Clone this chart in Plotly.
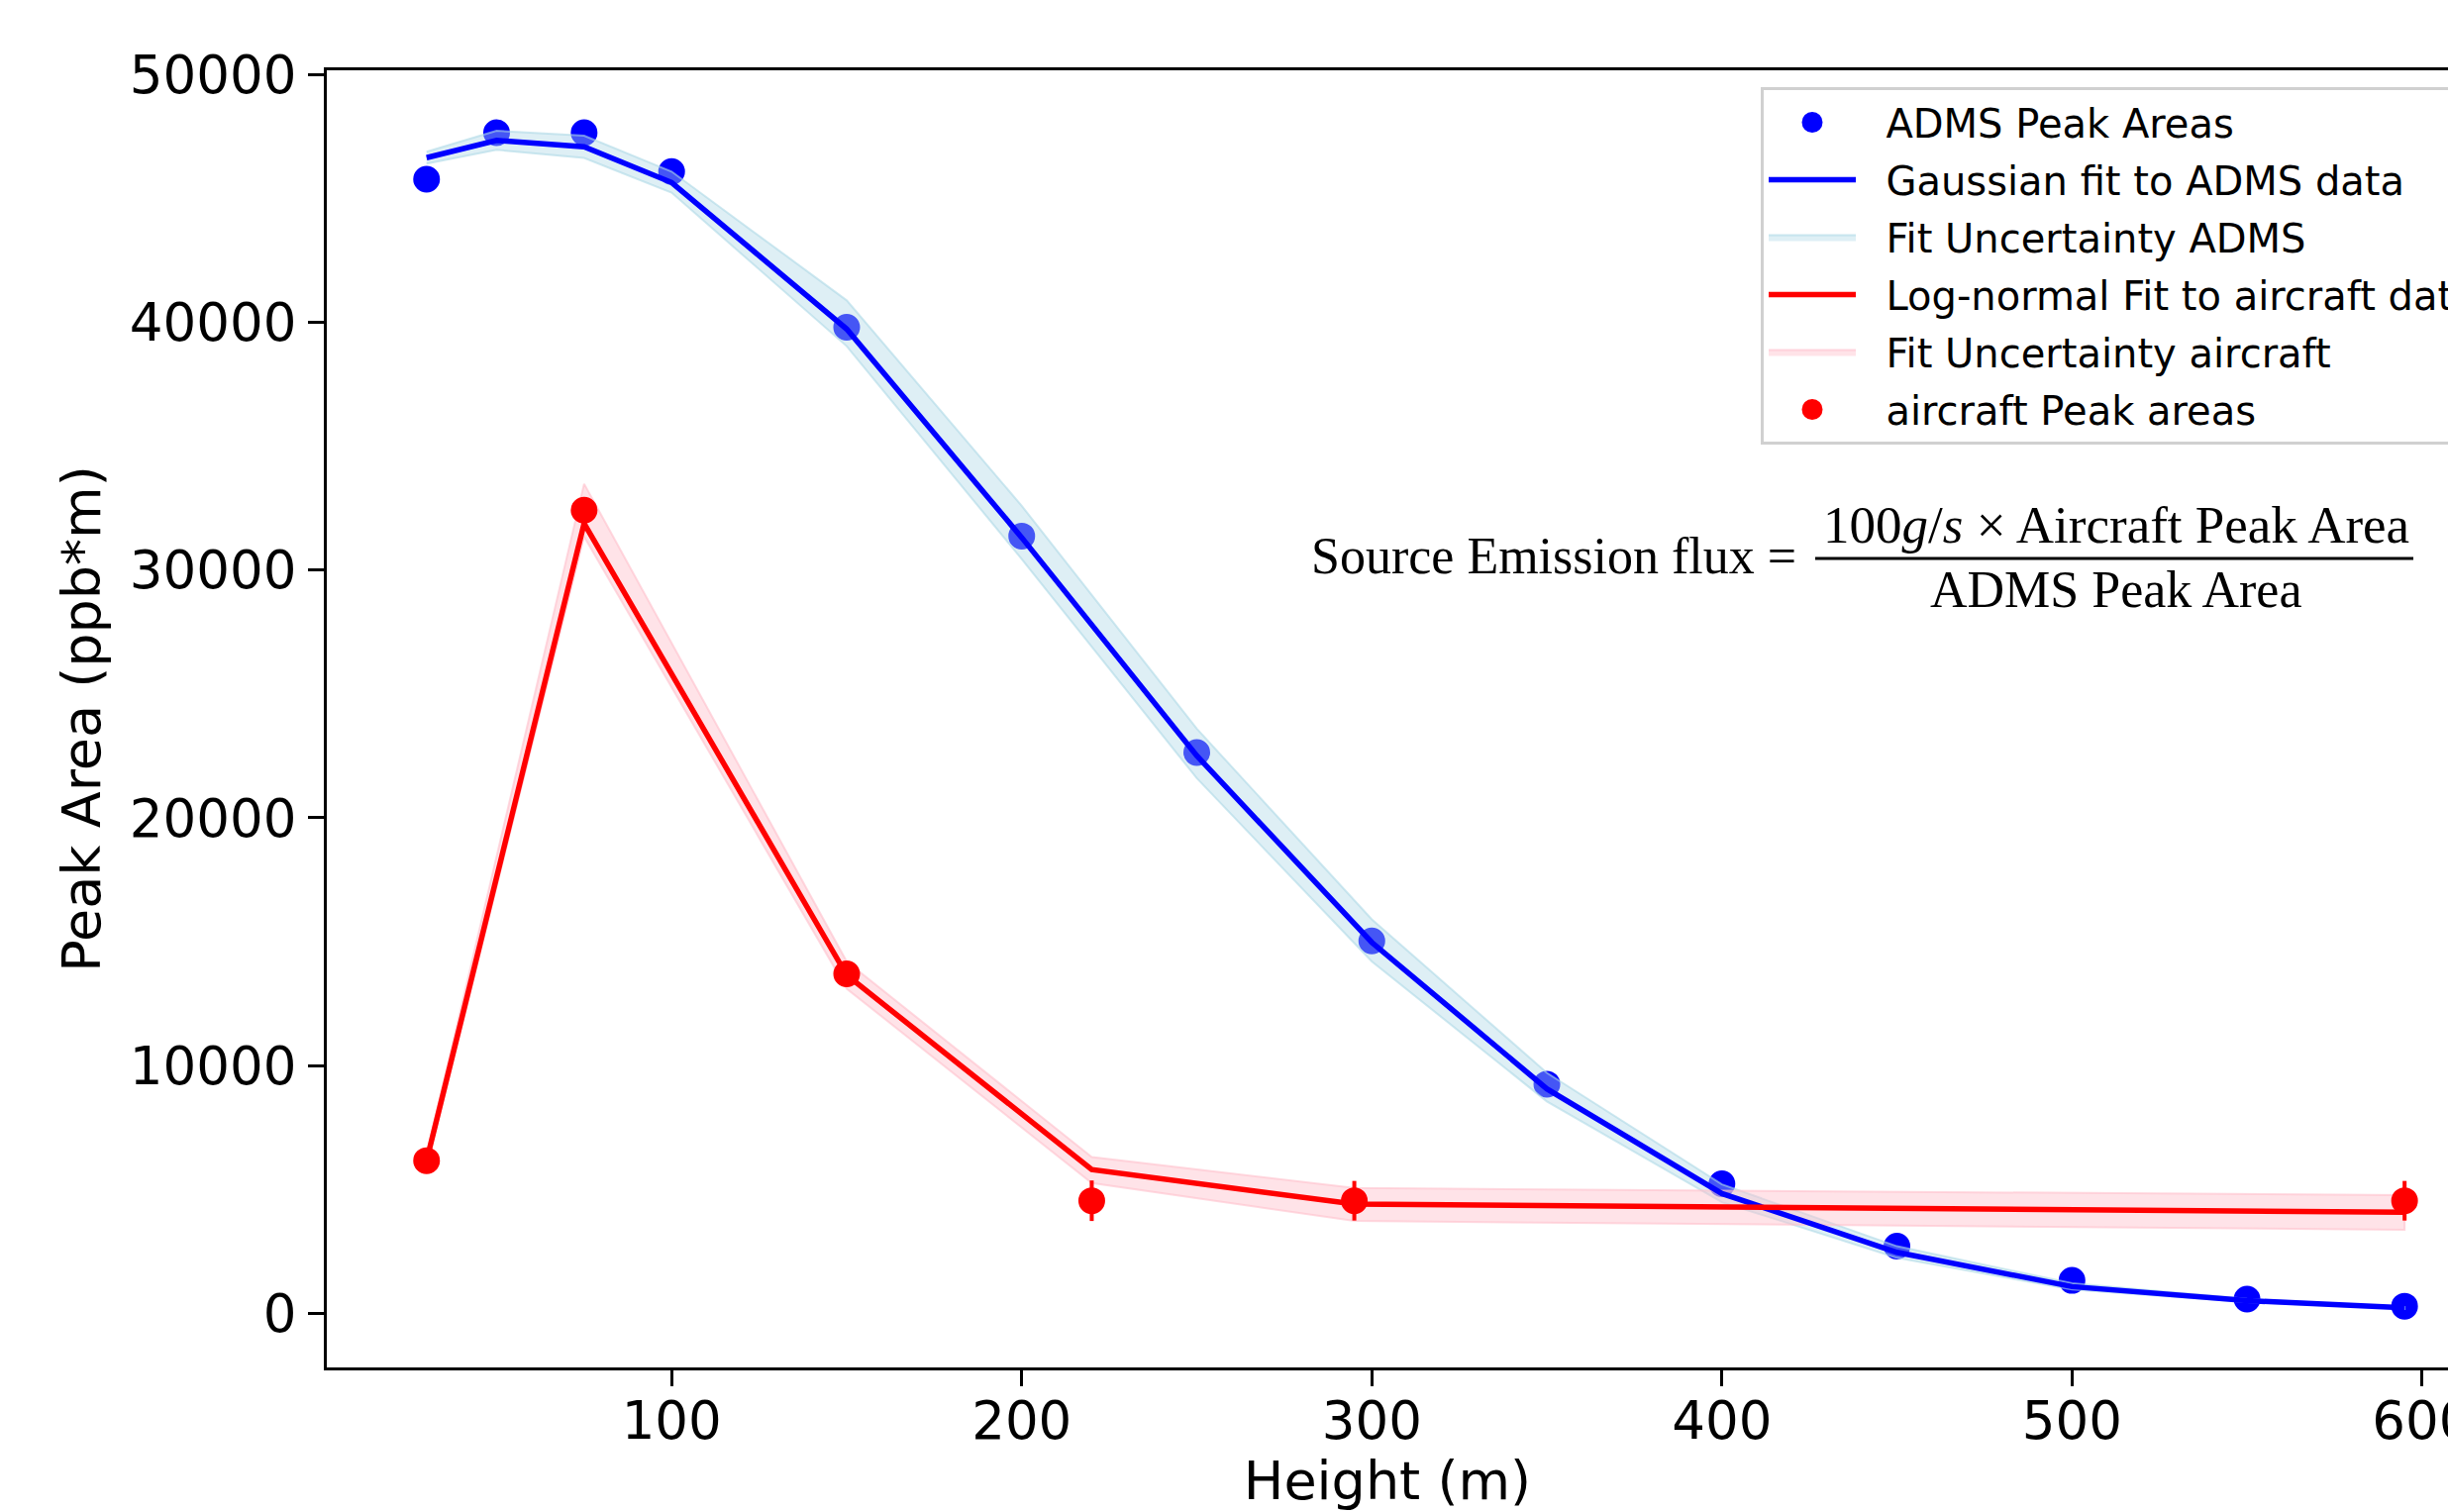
import plotly.graph_objects as go

# ---------------- data ----------------
adms_height = [30, 50, 75, 100, 150, 200, 250, 300, 350, 400, 450, 500, 550, 595]
adms_peak = [45790, 47670, 47670, 46100, 39810, 31380, 22640, 15030, 9245, 5220, 2704, 1320, 566, 279]
gauss_fit = [46660, 47360, 47100, 45660, 39740, 31320, 22510, 14970, 9056, 4828, 2453, 1069, 503, 211]
gauss_upper = [46900, 47750, 47550, 46100, 40900, 32600, 23600, 15900, 9700, 5200, 2700, 1200, 570, 250]
gauss_lower = [46420, 46980, 46650, 45250, 39050, 30450, 21600, 14200, 8550, 4480, 2230, 950, 440, 170]

air_height = [30, 75, 150, 220, 295, 595]
air_peak = [6157, 32427, 13698, 4537, 4537, 4537]
air_err = [300, 400, 400, 818, 800, 800]
lognorm_fit = [6157, 31893, 13650, 5797, 4400, 4070]
lognorm_upper = [6400, 33490, 14200, 6300, 5050, 4760]
lognorm_lower = [5900, 31360, 13100, 5250, 3720, 3364]

x_ticks = [100, 200, 300, 400, 500, 600]
y_ticks = [0, 10000, 20000, 30000, 40000, 50000]

# ---------------- layout geometry ----------------
W, H = 2472, 1527
L, R, T, B = 330, 2472, 71, 1381
PW, PH = R - L, B - T


def px(xp):
    return (xp - L) / PW


def py(yp):
    return (B - yp) / PH


FONT = "DejaVu Sans"
SERIF = "Liberation Serif"
PAD = "\u00a0\u00a0"

fig = go.Figure()

# ADMS points (drawn first, band over them)
fig.add_trace(go.Scatter(
    x=adms_height, y=adms_peak, mode="markers", name=PAD + "ADMS Peak Areas",
    marker=dict(color="#0000ff", size=22, line=dict(width=5, color="#0000ff")),
    legendrank=1, legendgroup="g1",
))
# ADMS uncertainty band
fig.add_trace(go.Scatter(
    x=adms_height + adms_height[::-1], y=gauss_upper + gauss_lower[::-1],
    mode="lines", fill="toself", name=PAD + "Fit Uncertainty ADMS",
    fillcolor="rgba(173,216,230,0.4)", line=dict(color="rgba(173,216,230,0.6)", width=2),
    legendrank=3, legendgroup="g3",
))
# aircraft uncertainty band
fig.add_trace(go.Scatter(
    x=air_height + air_height[::-1], y=lognorm_upper + lognorm_lower[::-1],
    mode="lines", fill="toself", name=PAD + "Fit Uncertainty aircraft",
    fillcolor="rgba(255,192,203,0.45)", line=dict(color="rgba(255,192,203,0.6)", width=2),
    legendrank=5, legendgroup="g5",
))
# Gaussian fit line
fig.add_trace(go.Scatter(
    x=adms_height, y=gauss_fit, mode="lines", name=PAD + "Gaussian fit to ADMS data",
    line=dict(color="#0000ff", width=5.5), legendrank=2, legendgroup="g2",
))
# log-normal fit line
fig.add_trace(go.Scatter(
    x=air_height, y=lognorm_fit, mode="lines", name=PAD + "Log-normal Fit to aircraft data",
    line=dict(color="#ff0000", width=5.5), legendrank=4, legendgroup="g4",
))
# aircraft points with error bars
fig.add_trace(go.Scatter(
    x=air_height, y=air_peak, mode="markers", name=PAD + "aircraft Peak areas",
    marker=dict(color="#ff0000", size=22, line=dict(width=5, color="#ff0000")),
    error_y=dict(type="data", array=air_err, visible=True, color="#ff0000", thickness=4, width=0),
    legendrank=6, legendgroup="g6",
))

axis_common = dict(
    showline=True, linecolor="black", linewidth=3, ticks="outside", ticklen=16,
    tickwidth=3, tickcolor="black", showgrid=False, zeroline=False,
    tickfont=dict(family=FONT, size=53, color="black"),
    ticklabeloverflow="allow",
)

fig.update_layout(
    width=W, height=H,
    margin=dict(l=L, r=W - R, t=T, b=H - B, pad=0, autoexpand=False),
    paper_bgcolor="white", plot_bgcolor="white",
    font=dict(family=FONT, color="black"),
    xaxis=dict(
        range=[1.5, 607.4], tickvals=x_ticks, ticktext=[str(v) for v in x_ticks],
        mirror=True, ticklabelstandoff=-11,
        title=dict(text="Height (m)", font=dict(family=FONT, size=54, color="black"), standoff=38),
        **axis_common,
    ),
    yaxis=dict(
        range=[-2195, 50190], tickvals=y_ticks, ticktext=[str(v) for v in y_ticks],
        mirror=False, ticklabelstandoff=1,
        title=dict(text="Peak Area (ppb*m)", font=dict(family=FONT, size=54, color="black"), standoff=12),
        **axis_common,
    ),
    legend=dict(
        x=px(1778), y=py(88), xanchor="left", yanchor="top",
        bgcolor="rgba(255,255,255,0.8)", bordercolor="#d0d0d0", borderwidth=3,
        font=dict(family=FONT, size=40, color="black"),
        itemwidth=88, tracegroupgap=3,
    ),
    showlegend=True,
)

# equation
fig.add_annotation(
    xref="paper", yref="paper", x=px(1816), y=py(561), xanchor="right", yanchor="middle",
    text="Source Emission flux =", showarrow=False,
    font=dict(family=SERIF, size=52, color="black"),
)
fig.add_annotation(
    xref="paper", yref="paper", x=px(2137), y=py(530), xanchor="center", yanchor="middle",
    text="100<i>g</i>/<i>s</i> × Aircraft Peak Area", showarrow=False,
    font=dict(family=SERIF, size=53, color="black"),
)
fig.add_annotation(
    xref="paper", yref="paper", x=px(2137), y=py(596), xanchor="center", yanchor="middle",
    text="ADMS Peak Area", showarrow=False,
    font=dict(family=SERIF, size=52, color="black"),
)
fig.add_shape(
    type="line", xref="paper", yref="paper",
    x0=px(1833), x1=px(2437), y0=py(564), y1=py(564),
    line=dict(color="black", width=3),
)

fig.write_html("out.html")
